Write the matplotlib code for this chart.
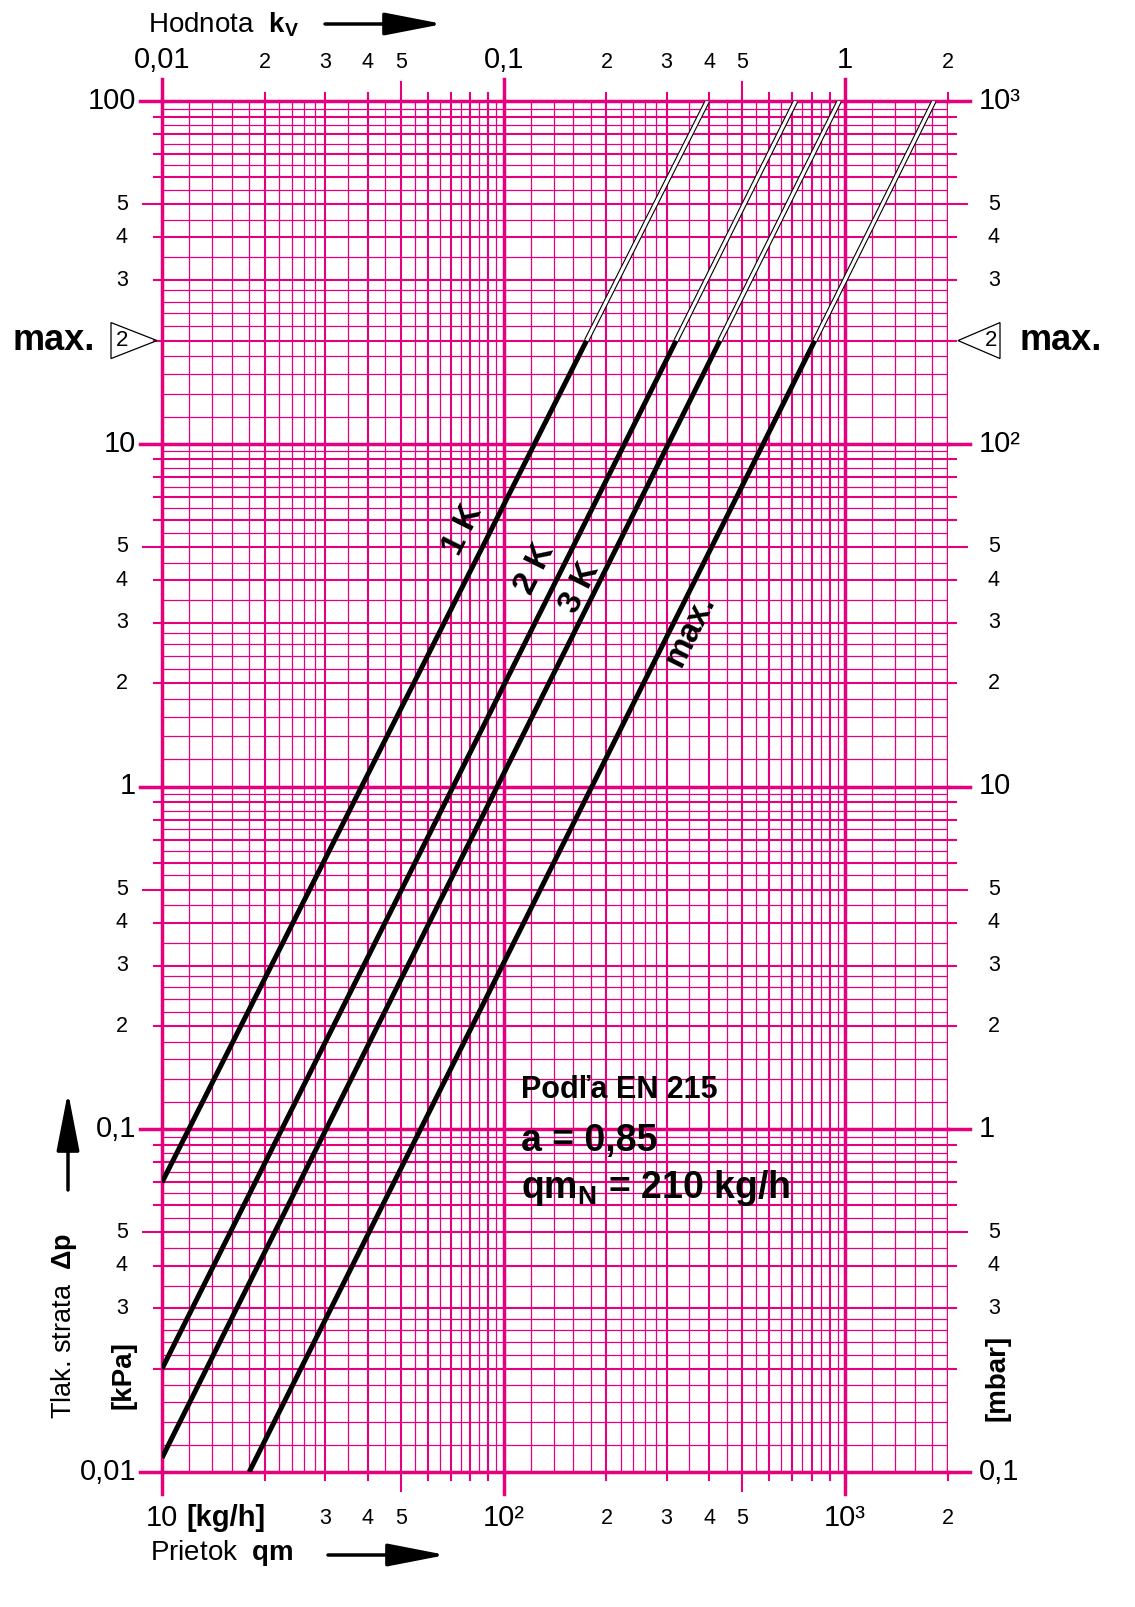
import math
import matplotlib.pyplot as plt
from matplotlib.patches import Polygon
from matplotlib.ticker import NullLocator

plt.rcParams['font.family'] = ['Liberation Sans', 'DejaVu Sans']
plt.rcParams['mathtext.fontset'] = 'custom'
plt.rcParams['mathtext.rm'] = 'Liberation Sans'
plt.rcParams['mathtext.bf'] = 'Liberation Sans:bold'
plt.rcParams['mathtext.it'] = 'Liberation Sans:italic'

PINK = '#e6007e'

# curves: start, end of thick part (20 kPa), end at 100 kPa
curve_names = ['1 K', '2 K', '3 K', 'max.']
start_qm = [10, 10, 10, 18.0]
start_dp = [0.07, 0.02, 0.011, 0.01]
break_qm = [175, 320, 430, 815]
break_dp = 20
end_qm = [395, 716, 961, 1820]
end_dp = 100

# axis labels
qm_major = [10, 100, 1000]
qm_major_txt = ['10', '10²', '10³']
qm_minor = [30, 40, 50, 200, 300, 400, 500, 2000]
qm_minor_txt = ['3', '4', '5', '2', '3', '4', '5', '2']

kv_major = [0.01, 0.1, 1]
kv_major_txt = ['0,01', '0,1', '1']
kv_minor = [0.02, 0.03, 0.04, 0.05, 0.2, 0.3, 0.4, 0.5, 2]
kv_minor_txt = ['2', '3', '4', '5', '2', '3', '4', '5', '2']

dp_major = [0.01, 0.1, 1, 10, 100]
dp_major_txt = ['0,01', '0,1', '1', '10', '100']
dp_minor = [0.03, 0.04, 0.05, 0.2, 0.3, 0.4, 0.5, 2, 3, 4, 5, 30, 40, 50]
dp_minor_txt = ['3', '4', '5', '2', '3', '4', '5', '2', '3', '4', '5', '3', '4', '5']

mbar_major = [0.1, 1, 10, 100, 1000]
mbar_major_txt = ['0,1', '1', '10', '10²', '10³']
mbar_minor = [0.3, 0.4, 0.5, 2, 3, 4, 5, 20, 30, 40, 50, 300, 400, 500]
mbar_minor_txt = ['3', '4', '5', '2', '3', '4', '5', '2', '3', '4', '5', '3', '4', '5']

W, H = 1135, 1607
fig = plt.figure(figsize=(W / 100, H / 100), dpi=100)
ax = fig.add_axes([162 / W, 1 - 1472 / H, (948 - 162) / W, (1472 - 101) / H])
ax.set_xscale('log')
ax.set_yscale('log')
ax.set_xlim(10, 2000)
ax.set_ylim(0.01, 100)
for a in (ax.xaxis, ax.yaxis):
    a.set_major_locator(NullLocator())
    a.set_minor_locator(NullLocator())
for s in ax.spines.values():
    s.set_visible(False)

thin_mult = [1.2, 1.4, 1.6, 1.8, 2.2, 2.4, 2.6, 2.8, 3.5, 4.5, 5.5, 6.5, 7.5, 8.5, 9.5]


def grid(decades, vmax, vertical):
    line = ax.axvline if vertical else ax.axhline
    for d in decades:
        for m in thin_mult:
            if d * m <= vmax:
                line(d * m, color=PINK, lw=0.9, zorder=1)
        for m in range(2, 10):
            if d * m <= vmax:
                line(d * m, color=PINK, lw=1.5, zorder=1.2)
        line(d, color=PINK, lw=2.5, zorder=1.4, clip_on=False)


grid([10, 100, 1000], 2000, True)
grid([0.01, 0.1, 1, 10, 100], 100, False)
ax.axvline(2000, color=PINK, lw=1.7, zorder=1.3)

# outer tick marks (lengths in pixels)
xw = (948 - 162)
yh = (1472 - 101)
xt = ax.get_xaxis_transform()
yt = ax.get_yaxis_transform()


def tick_len(v):
    r = v / 10 ** math.floor(math.log10(v) + 1e-9)
    if abs(r - 1) < 1e-6:
        return 22
    if abs(r - 5) < 1e-6:
        return 19
    return 8


for d in [10, 100, 1000]:
    for m in range(1, 10):
        v = d * m
        if v > 2000:
            continue
        L = tick_len(v)
        lw = 2.5 if m == 1 else 1.5
        ax.plot([v, v], [0, -L / yh], transform=xt, color=PINK, lw=lw, clip_on=False)
        ax.plot([v, v], [1, 1 + L / yh], transform=xt, color=PINK, lw=lw, clip_on=False)
for d in [0.01, 0.1, 1, 10]:
    for m in range(1, 10):
        v = d * m
        L = tick_len(v)
        lw = 2.5 if m == 1 else 1.5
        ax.plot([0, -L / xw], [v, v], transform=yt, color=PINK, lw=lw, clip_on=False)
        ax.plot([1, 1 + L / xw], [v, v], transform=yt, color=PINK, lw=lw, clip_on=False)
ax.plot([0, -22 / xw], [100, 100], transform=yt, color=PINK, lw=2.5, clip_on=False)
ax.plot([1, 1 + 22 / xw], [100, 100], transform=yt, color=PINK, lw=2.5, clip_on=False)

# curves
for i in range(len(curve_names)):
    ax.plot([start_qm[i], break_qm[i]], [start_dp[i], break_dp],
            color='black', lw=3.6, solid_capstyle='butt', zorder=5)
    ax.plot([break_qm[i], end_qm[i]], [break_dp, end_dp],
            color='black', lw=3.9, solid_capstyle='butt', zorder=5)
    ax.plot([break_qm[i], end_qm[i]], [break_dp, end_dp],
            color='white', lw=2.3, solid_capstyle='butt', zorder=6)

label_pos = [(76, 5.6), (124, 4.3), (167, 3.8), (352, 2.85)]
for name, (x, y) in zip(curve_names, label_pos):
    ax.text(x, y, name, rotation=63.4, rotation_mode='anchor', ha='center',
            va='center', fontsize=24, fontweight='bold', zorder=7)


def pxy(px, py):
    return px / W, 1 - py / H


# tick labels
for v, t in zip(qm_major, qm_major_txt):
    ax.text(v, -46 / yh, t, transform=xt, ha='center', va='center', fontsize=21)
ax.text(186 / W, 1 - 1518 / H, '[kg/h]', transform=fig.transFigure, ha='left',
        va='center', fontsize=21, fontweight='bold')
for v, t in zip(qm_minor, qm_minor_txt):
    ax.text(v, -47 / yh, t, transform=xt, ha='center', va='center', fontsize=15.5)

for v, t in zip(kv_major, kv_major_txt):
    ax.text(v * 1000, 1 + 41 / yh, t, transform=xt, ha='center', va='center', fontsize=21)
for v, t in zip(kv_minor, kv_minor_txt):
    ax.text(v * 1000, 1 + 39 / yh, t, transform=xt, ha='center', va='center', fontsize=15.5)

for v, t in zip(dp_major, dp_major_txt):
    ax.text(-26 / xw, v, t, transform=yt, ha='right', va='center', fontsize=21)
for v, t in zip(dp_minor, dp_minor_txt):
    ax.text(-40 / xw, v, t, transform=yt, ha='center', va='center', fontsize=15.5)

for v, t in zip(mbar_major, mbar_major_txt):
    ax.text(1 + 31 / xw, v / 10, t, transform=yt, ha='left', va='center', fontsize=21)
for v, t in zip(mbar_minor, mbar_minor_txt):
    ax.text(1 + 46 / xw, v / 10, t, transform=yt, ha='center', va='center', fontsize=15.5)

# max. markers at 20 kPa
y20px = H - ax.transData.transform((10, 20))[1]
for side in ('left', 'right'):
    if side == 'left':
        verts = [(111, y20px - 18), (111, y20px + 18), (157, y20px)]
        fig.text(122 / W, 1 - y20px / H, '2', ha='center', va='center', fontsize=16)
        fig.text(95 / W, 1 - y20px / H, 'max.', ha='right', va='center',
                 fontsize=26, fontweight='bold')
    else:
        verts = [(1000, y20px - 18), (1000, y20px + 18), (958, y20px)]
        fig.text(991 / W, 1 - y20px / H, '2', ha='center', va='center', fontsize=16)
        fig.text(1019 / W, 1 - y20px / H, 'max.', ha='left', va='center',
                 fontsize=26, fontweight='bold')
    fig.patches.append(Polygon([pxy(x, y) for x, y in verts], closed=True,
                               fill=False, ec='black', lw=0.9,
                               transform=fig.transFigure, figure=fig))

# axis titles
fig.text(148 / W, 1 - 25 / H, r'Hodnota  $\mathbf{k_V}$', ha='left', va='center',
         fontsize=20)
fig.text(150 / W, 1 - 1553 / H, r'Prietok  $\mathbf{qm}$', ha='left', va='center',
         fontsize=20)
fig.text(64 / W, 1 - 1326 / H, r'Tlak. strata  $\mathbf{Δp}$', ha='center',
         va='center', rotation=90, fontsize=19.5)
fig.text(124 / W, 1 - 1375 / H, '[kPa]', ha='center', va='center', rotation=90,
         fontsize=20, fontweight='bold')
fig.text(997 / W, 1 - 1378 / H, '[mbar]', ha='center', va='center', rotation=90,
         fontsize=20, fontweight='bold')

arrow = dict(arrowstyle='-|>,head_length=1.8,head_width=0.35', color='black',
             lw=2.5, mutation_scale=20, shrinkA=0, shrinkB=0)
for start, end in [((325, 24), (443, 24)), ((328, 1555), (446, 1555)),
                   ((68, 1190), (68, 1092))]:
    fig.add_artist(plt.Annotation('', xy=pxy(*end), xytext=pxy(*start),
                                  xycoords='figure fraction',
                                  textcoords='figure fraction', arrowprops=arrow))

# annotation block
fig.text(521 / W, 1 - 1090 / H, 'Podľa EN 215', ha='left', va='center',
         fontsize=22, fontweight='bold')
fig.text(521 / W, 1 - 1141 / H, 'a = 0,85', ha='left', va='center',
         fontsize=27, fontweight='bold')
fig.text(521 / W, 1 - 1188 / H, r'$\mathbf{qm_N}$ = 210 kg/h', ha='left',
         va='center', fontsize=27, fontweight='bold')

fig.savefig('out.png', dpi=100, facecolor='white')
